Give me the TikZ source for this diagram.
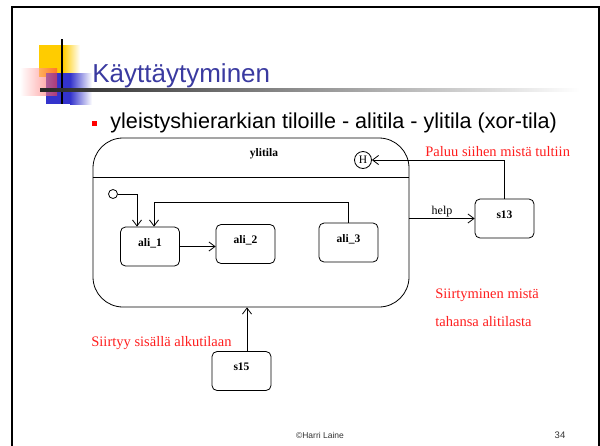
\documentclass[tikz,border=0pt]{standalone}
\usepackage{fontspec}
\setmainfont{Liberation Serif}
\setsansfont{Liberation Sans}
\usetikzlibrary{arrows.meta}
\definecolor{titleblue}{RGB}{58,58,160}
\definecolor{sqyellow}{RGB}{255,204,0}
\definecolor{sqblue}{RGB}{51,51,204}
\definecolor{notered}{RGB}{255,30,30}
\tikzset{
  tila/.style={draw, rounded corners=5pt, minimum width=59pt, minimum height=39pt,
    font=\fontsize{11.5}{12}\selectfont\bfseries, text depth=8pt},
  arr/.style={-{Straight Barb[length=6pt,width=9pt]}},
  huom/.style={text=notered, font=\fontsize{14.5}{16}\selectfont, anchor=west, inner sep=0pt},
}
\begin{document}
\begin{tikzpicture}[x=1pt,y=-1pt,line width=0.8pt]
\useasboundingbox (0,0) rectangle (600,445);
% slide frame
\draw[line width=2.5pt] (12,447) -- (12,7) -- (599,7) -- (599,447);
% corner decoration
\fill[sqyellow] (39,45) rectangle (63,77);
\shade[left color=sqyellow, right color=white] (63,45) rectangle (80,77);
\fill[sqblue] (46,73) rectangle (70,104);
\shade[left color=sqblue, right color=white] (70,73) rectangle (92,104);
\shade[left color=white, right color=red!75, opacity=0.6] (20,68) rectangle (57,95);
\draw[line width=2pt] (62,39) -- (62,104);
\shade[left color=black!85, middle color=black!30, right color=white] (40,88.5) rectangle (580,91.5);
\node[anchor=base west, text=titleblue, font=\sffamily\fontsize{26}{30}\selectfont, inner sep=0pt] (otsikko) at (92,82) {Käyttäytyminen};
\fill[red] (92,121) rectangle (97,126);
\node[anchor=base west, font=\sffamily\fontsize{21.6}{24}\selectfont, inner sep=0pt] (kohta) at (110,128) {yleistyshierarkian tiloille - alitila - ylitila (xor-tila)};

% ylitila
\node[draw, rounded corners=30pt, minimum width=316pt, minimum height=169pt] (ylitila) at (251,222.5) {};
\node[font=\bfseries\fontsize{11.5}{12}\selectfont] (nimi) at (264,154) {ylitila};
\draw (ylitila.west |- 0,177) -- (ylitila.east |- 0,177);
\node[draw, circle, minimum size=17pt, inner sep=0pt, font=\fontsize{11.5}{12}\selectfont] (H) at (363,160) {H};
\node[draw, circle, minimum size=9pt, inner sep=0pt] (alku) at (113,194) {};

\node[tila] (ali1) at (150,246.5) {ali\_1};
\node[tila] (ali2) at (245.5,244) {ali\_2};
\node[tila] (ali3) at (348.5,242.5) {ali\_3};
\node[tila] (s13) at (504.5,218.5) {s13};
\node[tila] (s15) at (241.5,371) {s15};

\draw[arr] (alku.east) -| ([xshift=-13pt]ali1.north);
\draw[arr] (ali3.north) -- ++(0,-20) -| ([xshift=4pt]ali1.north);
\draw[arr] (ali1.east) -- (ali2.west |- ali1.east);
\draw[arr] (ylitila.east |- s13.west) -- node[above, font=\fontsize{12}{13}\selectfont, inner sep=1pt] (help) {help} (s13.west);
\draw[arr] (s13.north) |- (H.east);
\draw[arr] ([xshift=5.5pt]s15.north) -- ([xshift=5.5pt]s15.north |- ylitila.south);

% huomautukset
\node[huom] (paluu) at (425,152) {Paluu siihen mistä tultiin};
\node[huom] (siirt1) at (435,295) {Siirtyminen mistä};
\node[huom] (siirt2) at (435,322) {tahansa alitilasta};
\node[huom] (alkuun) at (91,343) {Siirtyy sisällä alkutilaan};

\node[font=\sffamily\fontsize{8.5}{10}\selectfont, text=black!80] (tekija) at (320,435) {©Harri Laine};
\node[font=\sffamily\fontsize{9.5}{10}\selectfont, text=black!80] (sivu) at (560,435) {34};
\end{tikzpicture}
\end{document}
